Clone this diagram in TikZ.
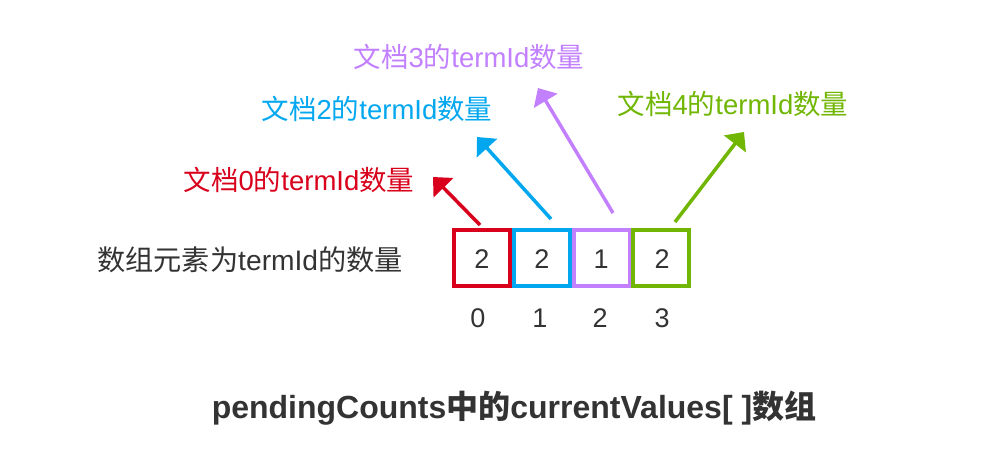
\documentclass[tikz,border=0pt]{standalone}
\usepackage{fontspec}
\setmainfont{Liberation Sans}
\newfontfamily\cjk{Noto Sans CJK SC}
\usetikzlibrary{arrows.meta}
\definecolor{cred}{HTML}{D9001B}
\definecolor{cblue}{HTML}{02A7F0}
\definecolor{cpurple}{HTML}{C280FF}
\definecolor{cgreen}{HTML}{70B603}
\definecolor{ctext}{HTML}{333333}
\begin{document}
\begin{tikzpicture}[x=1pt,y=-1pt,
  cell/.style={draw, line width=4pt, minimum width=56pt, minimum height=56pt, inner sep=0pt},
  dig/.style={inner sep=0pt, anchor=base, text=ctext, font=\fontsize{27}{30}\selectfont},
  lab/.style={inner sep=0pt, font=\fontsize{27.5}{30}\selectfont},
  arr/.style={line width=3.5pt, -{Triangle[length=15pt,width=27pt]}}]
\useasboundingbox (0,0) rectangle (998,468);
% cells
\node[cell, draw=cred]    (b0) at (482,258) {};
\node[cell, draw=cblue]   (b1) at (542,258) {};
\node[cell, draw=cpurple] (b2) at (602,258) {};
\node[cell, draw=cgreen]  (b3) at (661,258) {};
\node[dig] (v0) at (482,268) {2};
\node[dig] (v1) at (542,268) {2};
\node[dig] (v2) at (601,268) {1};
\node[dig] (v3) at (662,268) {2};
% indices
\node[dig] (i0) at (478,327) {0};
\node[dig] (i1) at (540,327) {1};
\node[dig] (i2) at (600,327) {2};
\node[dig] (i3) at (662,327) {3};
% left label
\node[lab, text=ctext, font=\fontsize{28.2}{30}\selectfont] (left) at (250,260) {{\cjk 数组元素为}termId{\cjk 的数量}};
% doc labels
\node[lab, text=cred]    (l0) at (299,180) {{\cjk 文档}0{\cjk 的}termId{\cjk 数量}};
\node[lab, text=cblue]   (l2) at (377,109) {{\cjk 文档}2{\cjk 的}termId{\cjk 数量}};
\node[lab, text=cpurple] (l3) at (469,57)  {{\cjk 文档}3{\cjk 的}termId{\cjk 数量}};
\node[lab, text=cgreen]  (l4) at (733,104) {{\cjk 文档}4{\cjk 的}termId{\cjk 数量}};
% arrows
\coordinate (s0) at (480,225); \coordinate (t0) at (433,177);
\coordinate (s1) at (551,219); \coordinate (t1) at (477,137);
\coordinate (s2) at (613,213); \coordinate (t2) at (538,88);
\coordinate (s3) at (675,222); \coordinate (t3) at (744,132);
\draw[arr, cred]    (s0) -- (t0);
\draw[arr, cblue]   (s1) -- (t1);
\draw[arr, cpurple] (s2) -- (t2);
\draw[arr, cgreen]  (s3) -- (t3);
% title
\node[inner sep=0pt, text=ctext, font=\bfseries\fontsize{32}{36}\selectfont] (title) at (514,408) {pendingCounts{\cjk 中的}currentValues[ ]{\cjk 数组}};
\end{tikzpicture}
\end{document}
